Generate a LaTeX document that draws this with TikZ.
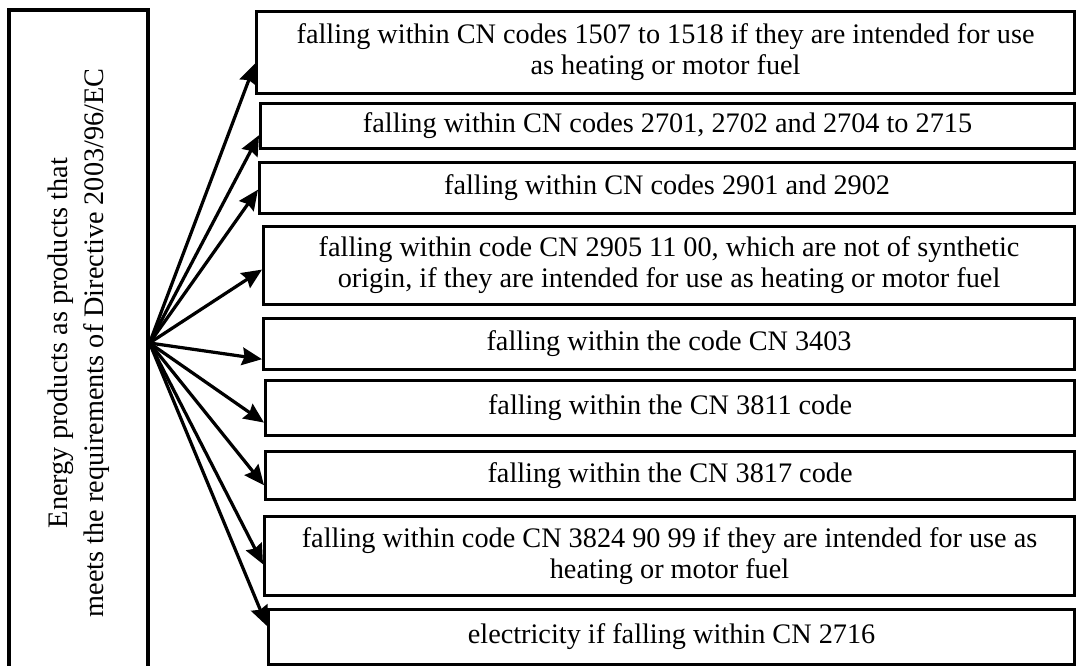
\documentclass[tikz,border=0pt]{standalone}
\usepackage{fontspec}
\setmainfont{Liberation Serif}
\usepackage{graphicx}
\usetikzlibrary{arrows.meta,calc}

\begin{document}
\begin{tikzpicture}[x=0.025cm,y=-0.025cm,
    every node/.style={font=\fontsize{20.1}{22}\selectfont},
    item/.style 2 args={draw, line width=2.2pt, inner sep=0pt, anchor=north west, align=center,
        minimum width=#1*0.025cm, minimum height=#2*0.025cm},
    link/.style={line width=2.3pt, -{Stealth[length=0.5cm,width=0.44cm,inset=0.06cm]}}]
    \path[use as bounding box, clip] (0,0) rectangle (1076,665);

    % left box, runs past the bottom edge
    \node[draw, line width=2.2pt, inner sep=0pt, minimum width=139*0.025cm, minimum height=666*0.025cm,
        font=\fontsize{20.1}{25.6}\selectfont] (src) at (78.5,343)
        {\rotatebox{90}{\begin{tabular}{@{}c@{}}Energy products as products that\\ meets the requirements of Directive 2003/96/EC\end{tabular}}};

    % right boxes
    \node[item={818}{82}] (b1) at (255,10) {falling within CN codes 1507 to 1518 if they are intended for use\\ as heating or motor fuel};
    \node[item={814}{45}] (b2) at (259,102) {falling within CN codes 2701, 2702 and 2704 to 2715};
    \node[item={815}{51}] (b3) at (258,161) {falling within CN codes 2901 and 2902};
    \node[item={811}{78}] (b4) at (262,225) {falling within code CN 2905 11 00, which are not of synthetic\\ origin, if they are intended for use as heating or motor fuel};
    \node[item={811}{51}] (b5) at (262,317) {falling within the code CN 3403};
    \node[item={809}{55}] (b6) at (264,379) {falling within the CN 3811 code};
    \node[item={809}{48}] (b7) at (264,450) {falling within the CN 3817 code};
    \node[item={810}{79}] (b8) at (263,515) {falling within code CN 3824 90 99 if they are intended for use as\\ heating or motor fuel};
    \node[item={806}{55}] (b9) at (267,608) {electricity if falling within CN 2716};

    % fan of arrows
    \draw[link] (src.east) -- ($(b1.south west)!0.37!(b1.north west)$);
    \draw[link] (src.east) -- ($(b2.south west)!0.31!(b2.north west)$);
    \draw[link] (src.east) -- ($(b3.south west)!0.47!(b3.north west)$);
    \draw[link] (src.east) -- ($(b4.south west)!0.45!(b4.north west)$);
    \draw[link] (src.east) -- ($(b5.south west)!0.22!(b5.north west)$);
    \draw[link] (src.east) -- ($(b6.south west)!0.25!(b6.north west)$);
    \draw[link] (src.east) -- ($(b7.south west)!0.31!(b7.north west)$);
    \draw[link] (src.east) -- ($(b8.south west)!0.40!(b8.north west)$);
    \draw[link] (src.east) -- ($(b9.south west)!0.69!(b9.north west)$);
\end{tikzpicture}
\end{document}
